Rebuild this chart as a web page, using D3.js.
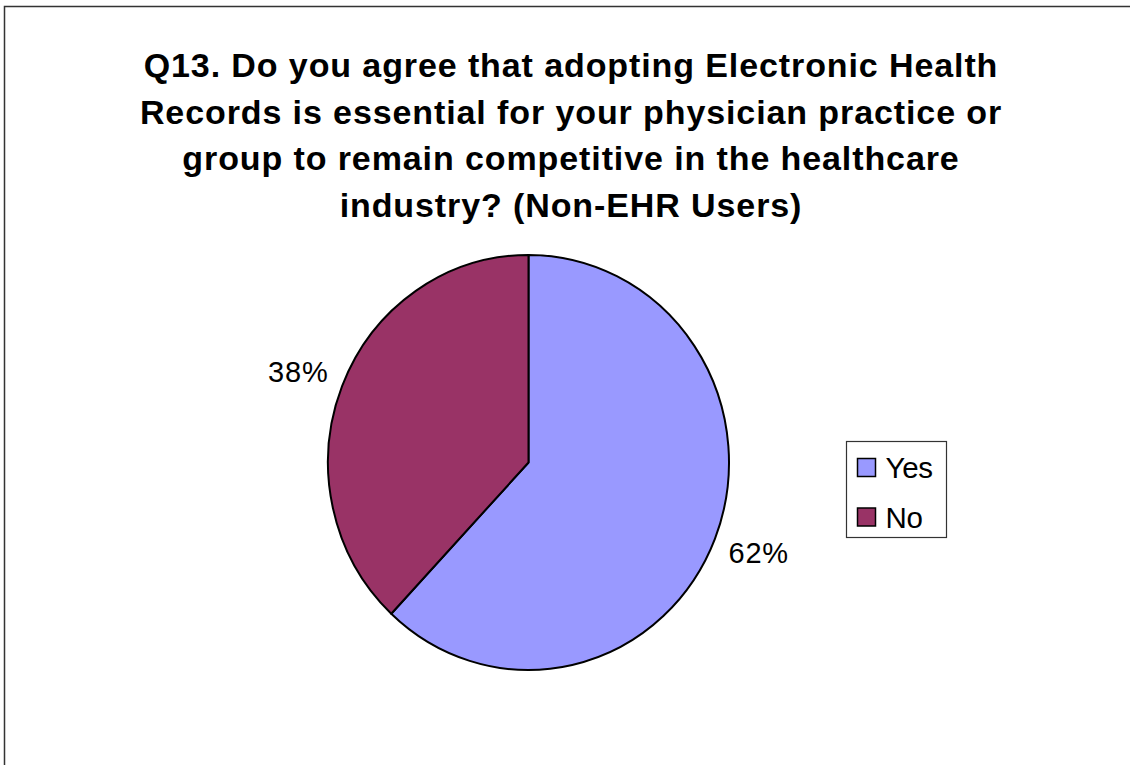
<!DOCTYPE html>
<html>
<head>
<meta charset="utf-8">
<script src="https://cdn.jsdelivr.net/npm/d3@7"></script>
<style>
  html, body { margin: 0; padding: 0; background: #fff; }
  svg { display: block; }
  text { font-family: "Liberation Sans", Arial, sans-serif; }
</style>
</head>
<body>
<svg id="chart" width="1130" height="765"></svg>
<script>
// Survey answers and their shares (percent)
const categories = ["Yes", "No"];
const shares = [62, 38];
const colors = ["#9999FF", "#993366"];
const titleLines = [
  "Q13. Do you agree that adopting Electronic Health",
  "Records is essential for your physician practice or",
  "group to remain competitive in the healthcare",
  "industry? (Non-EHR Users)"
];

const svg = d3.select("#chart");

// outer frame
svg.append("rect")
  .attr("x", 4.5).attr("y", 6.5)
  .attr("width", 1140).attr("height", 780)
  .attr("fill", "#fff")
  .attr("stroke", "#333").attr("stroke-width", 1.5);

// title
const title = svg.append("text")
  .attr("text-anchor", "middle")
  .attr("font-size", 34)
  .attr("font-weight", "bold")
  .attr("letter-spacing", 0.9)
  .attr("fill", "#000");
titleLines.forEach((line, i) => {
  title.append("tspan")
    .attr("x", 571)
    .attr("y", 77 + i * 46.7)
    .text(line);
});

// pie
const cx = 528.5, cy = 462.5, rx = 200.5, ry = 207.5;
const data = categories.map((c, i) => ({ cat: c, value: shares[i], color: colors[i] }));
const pie = d3.pie().sort(null).value(d => d.value);
const arcs = pie(data);
const arc = d3.arc().innerRadius(0).outerRadius(rx);

const pg = svg.append("g")
  .attr("transform", `translate(${cx},${cy}) scale(1,${ry / rx})`);
pg.selectAll("path")
  .data(arcs)
  .join("path")
  .attr("d", arc)
  .attr("fill", d => d.data.color)
  .attr("stroke", "#000")
  .attr("stroke-width", 2)
  .attr("vector-effect", "non-scaling-stroke")
  .attr("stroke-linejoin", "round");

// percentage labels outside slices
const labelArc = d3.arc().innerRadius(rx * 1.235).outerRadius(rx * 1.235);
svg.append("g").selectAll("text")
  .data(arcs)
  .join("text")
  .attr("x", d => cx + labelArc.centroid(d)[0])
  .attr("y", d => cy + labelArc.centroid(d)[1] * 0.99)
  .attr("text-anchor", "middle")
  .attr("dominant-baseline", "central")
  .attr("font-size", 29)
  .attr("letter-spacing", 0.8)
  .attr("fill", "#000")
  .text(d => d.data.value + "%");

// legend
const lg = svg.append("g").attr("transform", "translate(846.5,441.5)");
lg.append("rect")
  .attr("width", 100).attr("height", 96)
  .attr("fill", "#fff").attr("stroke", "#333").attr("stroke-width", 1.2);
const rows = lg.selectAll("g.row")
  .data(data)
  .join("g")
  .attr("class", "row")
  .attr("transform", (d, i) => `translate(0,${26 + i * 49.5})`);
rows.append("rect")
  .attr("x", 11).attr("y", -9)
  .attr("width", 18).attr("height", 18)
  .attr("fill", d => d.color)
  .attr("stroke", "#000").attr("stroke-width", 1.5);
rows.append("text")
  .attr("x", 39).attr("y", 10.5)
  .attr("font-size", 29.5)
  .attr("letter-spacing", -0.3)
  .attr("fill", "#000")
  .text(d => d.cat);
</script>
</body>
</html>
